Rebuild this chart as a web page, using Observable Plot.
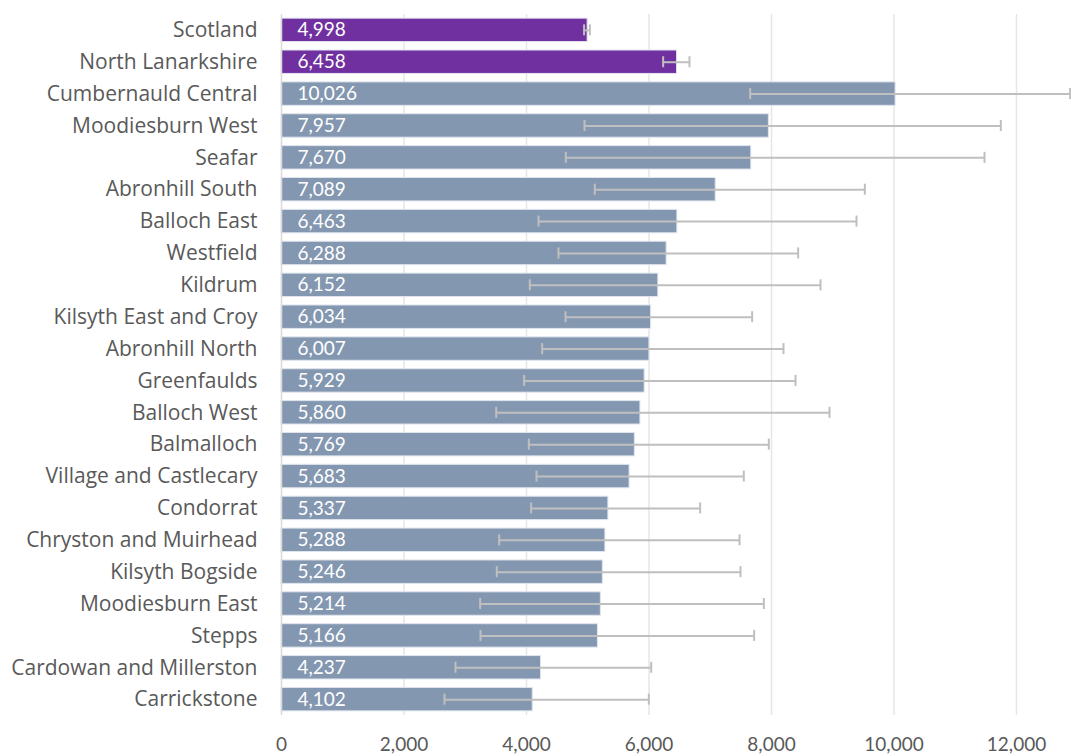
<!DOCTYPE html>
<html>
<head>
<meta charset="utf-8">
<script src="https://cdn.jsdelivr.net/npm/d3@7"></script>
<script src="https://cdn.jsdelivr.net/npm/@observablehq/plot@0.6"></script>
<style>
  html, body { margin: 0; padding: 0; background: #fff; }
  #chart svg { display: block; }
</style>
</head>
<body>
<div id="chart"></div>
<script>
const areas = [
  "Scotland", "North Lanarkshire", "Cumbernauld Central", "Moodiesburn West", "Seafar",
  "Abronhill South", "Balloch East", "Westfield", "Kildrum", "Kilsyth East and Croy",
  "Abronhill North", "Greenfaulds", "Balloch West", "Balmalloch", "Village and Castlecary",
  "Condorrat", "Chryston and Muirhead", "Kilsyth Bogside", "Moodiesburn East", "Stepps",
  "Cardowan and Millerston", "Carrickstone"
];
const values = [
  4998, 6458, 10026, 7957, 7670,
  7089, 6463, 6288, 6152, 6034,
  6007, 5929, 5860, 5769, 5683,
  5337, 5288, 5246, 5214, 5166,
  4237, 4102
];
const lower = [
  4940, 6231, 7652, 4947, 4642,
  5115, 4196, 4522, 4054, 4637,
  4256, 3962, 3505, 4038, 4163,
  4076, 3554, 3515, 3243, 3249,
  2841, 2661
];
const upper = [
  5034, 6661, 12876, 11744, 11478,
  9524, 9388, 8435, 8800, 7684,
  8196, 8392, 8947, 7956, 7548,
  6835, 7478, 7494, 7875, 7717,
  6036, 5997
];
const highlight = ["Scotland", "North Lanarkshire"];
const xTicks = [0, 2000, 4000, 6000, 8000, 10000, 12000];

const data = areas.map((a, i) => ({
  area: a, value: values[i], lo: lower[i], hi: upper[i],
  group: highlight.includes(a) ? "hl" : "ward"
}));
const fmt = d3.format(",");
const LABEL_FONT = "'Open Sans', Lato, sans-serif";
const NUM_FONT = "Lato, 'Open Sans', sans-serif";

const chart = Plot.plot({
  width: 1071,
  height: 756,
  marginLeft: 281,
  marginRight: 55,
  marginTop: 14,
  marginBottom: 41,
  style: { fontFamily: NUM_FONT, fontSize: "19px", color: "#595959", background: "#fff" },
  x: { domain: [0, 12000], ticks: xTicks, axis: null },
  y: { domain: areas, paddingInner: 0.265, paddingOuter: 0.13, round: false, axis: null },
  color: { domain: ["hl", "ward"], range: ["#7030A0", "#8497B0"] },
  marks: [
    Plot.ruleX(xTicks.filter(t => t > 0), { stroke: "#E6E6E6", strokeWidth: 1.5 }),
    Plot.barX(data, { x: "value", y: "area", fill: "group", stroke: "#dfe5ee", strokeWidth: 1 }),
    Plot.ruleX([0], { stroke: "#D9D9D9", strokeWidth: 1.5 }),
    Plot.ruleY(data, { y: "area", x1: "lo", x2: "hi", stroke: "#BFBFBF", strokeWidth: 2 }),
    Plot.tickX(data, { x: "lo", y: "area", stroke: "#BFBFBF", strokeWidth: 2, insetTop: 6.2, insetBottom: 6.2 }),
    Plot.tickX(data, { x: "hi", y: "area", stroke: "#BFBFBF", strokeWidth: 2, insetTop: 6.2, insetBottom: 6.2 }),
    Plot.text(data, { x: 0, y: "area", text: d => fmt(d.value), dx: 16, textAnchor: "start", fill: "#fff", fontSize: 19 }),
    Plot.axisY({ label: null, tickSize: 0, tickPadding: 24, fontSize: 21, fontFamily: LABEL_FONT, color: "#595959" }),
    Plot.axisX({ label: null, ticks: xTicks, tickSize: 0, tickPadding: 22, tickFormat: fmt, fontSize: 19, color: "#595959" })
  ]
});
document.getElementById("chart").appendChild(chart);
</script>
</body>
</html>
